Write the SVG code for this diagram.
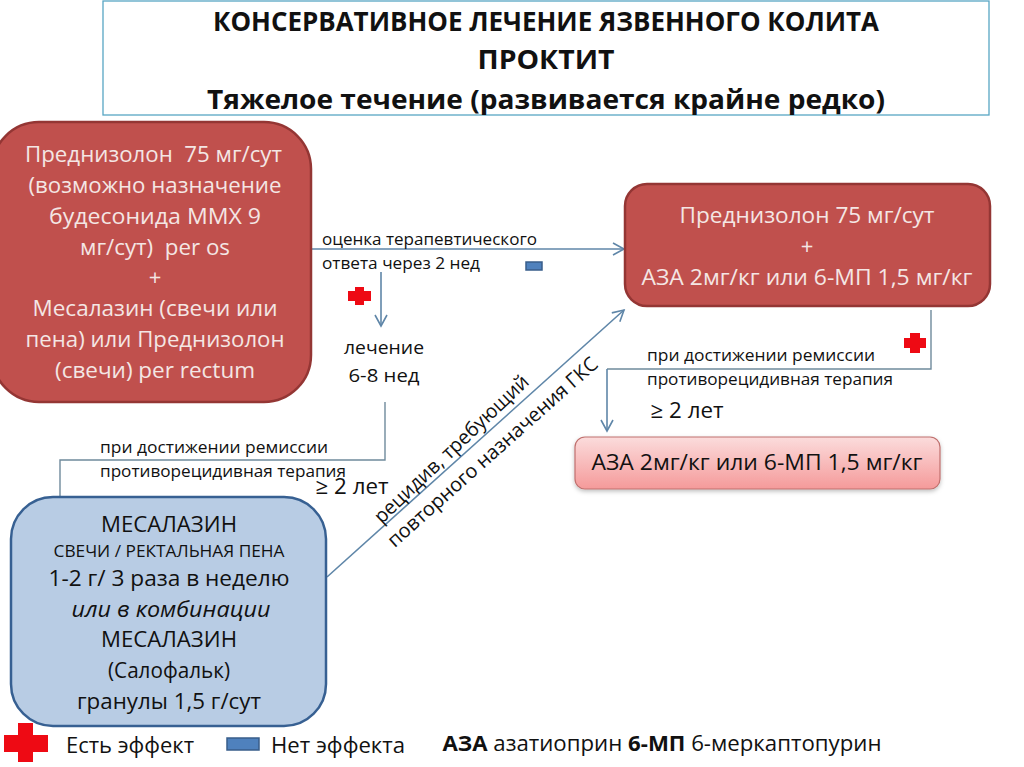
<svg xmlns="http://www.w3.org/2000/svg" width="1024" height="767" viewBox="0 0 1024 767">
<style>
text{font-family:"Open Sans","Noto Sans","Liberation Sans",sans-serif;fill:#111;text-anchor:middle;white-space:pre}
.w{fill:#f4e6e4}
.b{font-weight:700}
.s{font-size:16px;text-anchor:start}
.c{fill:none;stroke:#5f86a8;stroke-width:1.6}
.g{fill:none;stroke:#6f8a9c;stroke-width:1.4}
.red{fill:#ee0a14}
.blue{fill:#4f81bd;stroke:#385d8a;stroke-width:1.5}
</style>
<defs>
<marker id="a" markerWidth="16" markerHeight="16" refX="12" refY="7" orient="auto" markerUnits="userSpaceOnUse"><path d="M1 1L12 7L1 13" fill="none" stroke="#5f86a8" stroke-width="1.6"/></marker>
<linearGradient id="p" x1="0" y1="0" x2="0" y2="1"><stop offset="0" stop-color="#fbdcdc"/><stop offset="1" stop-color="#f59a9a"/></linearGradient>
<filter id="sh" x="-5%" y="-20%" width="110%" height="150%"><feDropShadow dx="0" dy="2" stdDeviation="2" flood-color="#000" flood-opacity=".25"/></filter>
</defs>
<rect width="1024" height="767" fill="#fff"/>
<g id="title">
<rect x="103" y="1" width="886" height="114" fill="#fff" stroke="#58a6c4" stroke-width="1.3"/>
<text class="b" x="546" y="31" font-size="27" textLength="666" lengthAdjust="spacingAndGlyphs">КОНСЕРВАТИВНОЕ ЛЕЧЕНИЕ ЯЗВЕННОГО КОЛИТА</text>
<text class="b" x="546" y="69" font-size="27" textLength="137" lengthAdjust="spacingAndGlyphs">ПРОКТИТ</text>
<text class="b" x="546" y="109" font-size="27" textLength="678" lengthAdjust="spacingAndGlyphs">Тяжелое течение (развивается крайне редко)</text>
</g>
<g id="connectors">
<path class="c" d="M312 249H624" marker-end="url(#a)"/>
<path class="c" d="M381 272V326" marker-end="url(#a)"/>
<path class="g" d="M385 402V460H60V497"/>
<path class="c" d="M327 577L624 310" marker-end="url(#a)"/>
<path class="g" d="M931 310V369H607"/>
<path class="c" d="M607 369V431" marker-end="url(#a)"/>
</g>
<g id="node-prednisolone-1">
<rect x="-8" y="122" width="319" height="280" rx="47" fill="#c0504d" stroke="#943634" stroke-width="2.5"/>
<g font-size="22">
<text class="w" x="153.500" y="162" textLength="257" lengthAdjust="spacingAndGlyphs">Преднизолон  75 мг/сут</text>
<text class="w" x="155" y="193" textLength="253" lengthAdjust="spacingAndGlyphs">(возможно назначение</text>
<text class="w" x="155" y="224" textLength="212" lengthAdjust="spacingAndGlyphs">будесонида ММХ 9</text>
<text class="w" x="155" y="255" textLength="150" lengthAdjust="spacingAndGlyphs">мг/сут)  per os</text>
<text class="w" x="155" y="285">+</text>
<text class="w" x="155" y="316" textLength="245" lengthAdjust="spacingAndGlyphs">Месалазин (свечи или</text>
<text class="w" x="155" y="347" textLength="259" lengthAdjust="spacingAndGlyphs">пена) или Преднизолон</text>
<text class="w" x="155" y="378" textLength="200" lengthAdjust="spacingAndGlyphs">(свечи) per rectum</text>
</g>
</g>
<g id="node-prednisolone-2">
<rect x="625" y="184" width="365" height="122" rx="22" fill="#c0504d" stroke="#943634" stroke-width="2.5"/>
<text class="w" x="807" y="223" font-size="22" textLength="255" lengthAdjust="spacingAndGlyphs">Преднизолон 75 мг/сут</text>
<text class="w" x="807" y="254" font-size="22">+</text>
<text class="w" x="807" y="285" font-size="22" textLength="331" lengthAdjust="spacingAndGlyphs">АЗА 2мг/кг или 6-МП 1,5 мг/кг</text>
</g>
<g id="node-aza">
<rect x="575" y="437" width="365" height="52" rx="10" fill="url(#p)" stroke="#c0706e" stroke-width="1.2" filter="url(#sh)"/>
<text x="757" y="470" font-size="22" textLength="331" lengthAdjust="spacingAndGlyphs">АЗА 2мг/кг или 6-МП 1,5 мг/кг</text>
</g>
<g id="node-mesalazine">
<rect x="11" y="497" width="315" height="229" rx="42" fill="#b8cce4" stroke="#376092" stroke-width="2.5"/>
<text x="169" y="532" font-size="22" textLength="136" lengthAdjust="spacingAndGlyphs">МЕСАЛАЗИН</text>
<text x="169" y="557" font-size="17" textLength="231" lengthAdjust="spacingAndGlyphs">СВЕЧИ / РЕКТАЛЬНАЯ ПЕНА</text>
<text x="169" y="586" font-size="22" textLength="241" lengthAdjust="spacingAndGlyphs">1-2 г/ 3 раза в неделю</text>
<text x="171" y="617" font-size="22" font-style="italic" textLength="199" lengthAdjust="spacingAndGlyphs">или в комбинации</text>
<text x="169" y="647" font-size="22" textLength="136" lengthAdjust="spacingAndGlyphs">МЕСАЛАЗИН</text>
<text x="169" y="678" font-size="22" textLength="122" lengthAdjust="spacingAndGlyphs">(Салофальк)</text>
<text x="169" y="709" font-size="22" textLength="184" lengthAdjust="spacingAndGlyphs">гранулы 1,5 г/сут</text>
</g>
<g id="labels">
<text class="s" x="322" y="245" textLength="215" lengthAdjust="spacingAndGlyphs">оценка терапевтического</text>
<text class="s" x="322" y="269" textLength="158" lengthAdjust="spacingAndGlyphs">ответа через 2 нед</text>
<text x="384" y="354" font-size="19" textLength="80" lengthAdjust="spacingAndGlyphs">лечение</text>
<text x="384" y="382" font-size="19" textLength="71" lengthAdjust="spacingAndGlyphs">6-8 нед</text>
<text class="s" x="100" y="453" textLength="228" lengthAdjust="spacingAndGlyphs">при достижении ремиссии</text>
<text class="s" x="100" y="477" textLength="246" lengthAdjust="spacingAndGlyphs">противорецидивная терапия</text>
<text x="352" y="494" font-size="22" textLength="73" lengthAdjust="spacingAndGlyphs">≥ 2 лет</text>
<text class="s" x="647" y="361" textLength="228" lengthAdjust="spacingAndGlyphs">при достижении ремиссии</text>
<text class="s" x="647" y="385" textLength="246" lengthAdjust="spacingAndGlyphs">противорецидивная терапия</text>
<text x="687" y="418" font-size="22" textLength="73" lengthAdjust="spacingAndGlyphs">≥ 2 лет</text>
<text transform="translate(456 454) rotate(-43.500)" font-size="20" textLength="205" lengthAdjust="spacingAndGlyphs">рецидив, требующий</text>
<text transform="translate(497 457) rotate(-41.700)" font-size="20" textLength="274" lengthAdjust="spacingAndGlyphs">повторного назначения ГКС</text>
</g>
<g id="marks">
<path class="red" d="M348 291H355V287H364V291H371V301H364V305H355V301H348Z"/>
<path class="red" d="M904 338H910V333H920V338H926V348H920V353H910V348H904Z"/>
<rect class="blue" x="526" y="262" width="16" height="8"/>
</g>
<g id="legend">
<path class="red" d="M18 723H33V735H48V752H33V762H18V752H4V735H18Z"/>
<text x="130" y="753" font-size="22" textLength="128" lengthAdjust="spacingAndGlyphs">Есть эффект</text>
<rect class="blue" x="227" y="738" width="32" height="12"/>
<text x="338" y="753" font-size="22" textLength="134" lengthAdjust="spacingAndGlyphs">Нет эффекта</text>
<text x="662" y="751" font-size="22" textLength="439" lengthAdjust="spacingAndGlyphs"><tspan class="b">АЗА</tspan> азатиоприн <tspan class="b">6-МП</tspan> 6-меркаптопурин</text>
</g>
</svg>
